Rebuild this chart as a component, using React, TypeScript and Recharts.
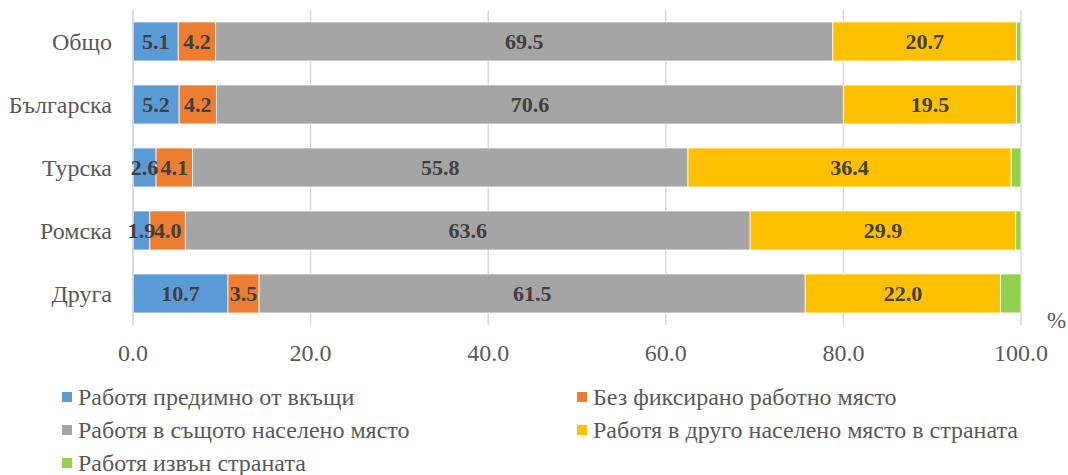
import { Bar, BarChart, CartesianGrid, LabelList, XAxis, YAxis } from "recharts";

const categories = ["Общо", "Българска", "Турска", "Ромска", "Друга"];
const fromHome = [5.1, 5.2, 2.6, 1.9, 10.7];
const noFixedPlace = [4.2, 4.2, 4.1, 4.0, 3.5];
const samePlace = [69.5, 70.6, 55.8, 63.6, 61.5];
const otherPlace = [20.7, 19.5, 36.4, 29.9, 22.0];
const abroad = [0.5, 0.5, 1.1, 0.6, 2.3];
const xTicks = [0, 20, 40, 60, 80, 100];

const series = [
  { key: "home", name: "Работя предимно от вкъщи", values: fromHome, color: "#5B9BD5", label: true },
  { key: "nofix", name: "Без фиксирано работно място", values: noFixedPlace, color: "#ED7D31", label: true },
  { key: "same", name: "Работя в същото населено място", values: samePlace, color: "#A5A5A5", label: true },
  { key: "other", name: "Работя в друго населено място в страната", values: otherPlace, color: "#FFC000", label: true },
  { key: "abroad", name: "Работя извън страната", values: abroad, color: "#92D050", label: false },
];

const data = categories.map((cat, i) => {
  const row: Record<string, string | number> = { cat };
  series.forEach((s) => (row[s.key] = s.values[i]));
  return row;
});

const font = "'Liberation Serif', 'Times New Roman', serif";
const textColor = "#595959";

export default function App() {
  return (
    <div style={{ position: "absolute", left: 0, top: 0, width: 1068, height: 475, background: "#fff", fontFamily: font }}>
      <BarChart
        width={1068}
        height={475}
        data={data}
        layout="vertical"
        margin={{ top: 10, right: 47, bottom: 115, left: 0 }}
        barCategoryGap="19%"
      >
        <CartesianGrid horizontal={false} stroke="#d9d9d9" strokeWidth={1.5} />
        <XAxis
          type="number"
          domain={[0, 100]}
          ticks={xTicks}
          tickFormatter={(v: number) => v.toFixed(1)}
          axisLine={false}
          tickLine={false}
          tickSize={0}
          tickMargin={19}
          height={35}
          tick={{ fontSize: 24, fill: textColor, fontFamily: font }}
        />
        <YAxis
          type="category"
          dataKey="cat"
          width={133}
          axisLine={{ stroke: "#d9d9d9", strokeWidth: 1.5 }}
          tickLine={false}
          tickSize={0}
          tickMargin={21}
          tick={{ fontSize: 24, fill: textColor, fontFamily: font }}
        />
        {series.map((s) => (
          <Bar
            key={s.key}
            dataKey={s.key}
            name={s.name}
            stackId="a"
            fill={s.color}
            stroke="#ffffff"
            strokeWidth={0.75}
            isAnimationActive={false}
          >
            {s.label && (
              <LabelList
                dataKey={s.key}
                position="center"
                formatter={(v: number) => Number(v).toFixed(1)}
                style={{ fontSize: 22, fontWeight: "bold", fill: "#404040", fontFamily: font }}
              />
            )}
          </Bar>
        ))}
      </BarChart>
      <div style={{ position: "absolute", left: 1047, top: 308, fontSize: 23, color: textColor }}>%</div>
      {series.map((s, i) => {
        const col = i % 2;
        const row = Math.floor(i / 2);
        return (
          <div
            key={s.key}
            style={{
              position: "absolute",
              left: col === 0 ? 62 : 577,
              top: 384 + row * 33,
              display: "flex",
              alignItems: "center",
              fontSize: 24,
              color: textColor,
              whiteSpace: "nowrap",
              lineHeight: "26px",
            }}
          >
            <span style={{ display: "inline-block", width: 10, height: 10, background: s.color, marginRight: 6 }} />
            {s.name}
          </div>
        );
      })}
    </div>
  );
}
